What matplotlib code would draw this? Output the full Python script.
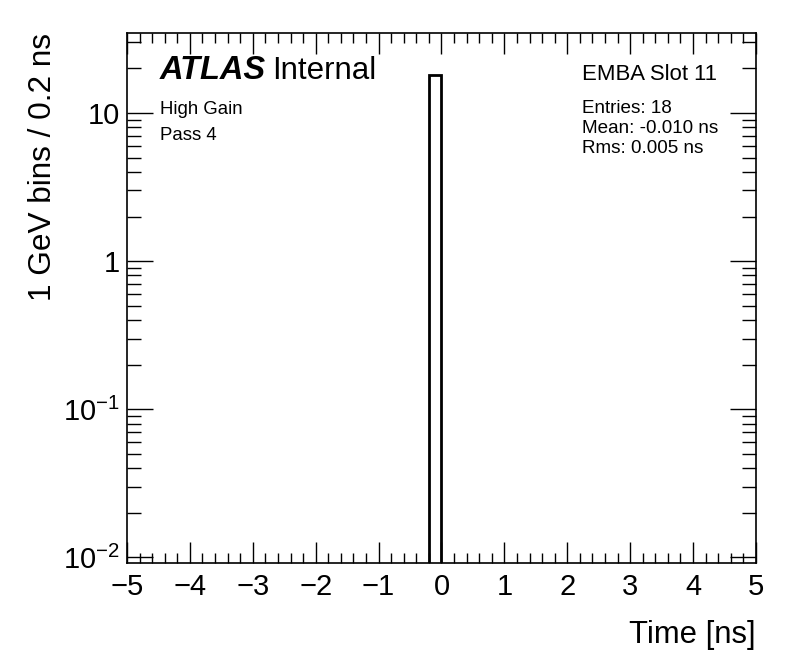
import numpy as np
import matplotlib
matplotlib.use('Agg')
import matplotlib.pyplot as plt
from matplotlib.ticker import FixedLocator, FixedFormatter, MultipleLocator, LogLocator, NullFormatter

plt.rcParams['font.family'] = ['Liberation Sans', 'DejaVu Sans']
plt.rcParams['mathtext.fontset'] = 'custom'
plt.rcParams['mathtext.rm'] = 'Liberation Sans'
plt.rcParams['mathtext.it'] = 'Liberation Sans:italic'
plt.rcParams['mathtext.bf'] = 'Liberation Sans:bold'

# histogram: 0.2 ns bins from -5 to 5, only one filled bin
bin_lo = [-0.2]
bin_hi = [0.0]
counts = [18]

x_ticks = [-5, -4, -3, -2, -1, 0, 1, 2, 3, 4, 5]
x_labels = ['\u22125', '\u22124', '\u22123', '\u22122', '\u22121', '0', '1', '2', '3', '4', '5']
y_ticks = [0.01, 0.1, 1, 10]
y_labels = [r'$10^{-2}$', r'$10^{-1}$', '1', '10']

fig = plt.figure(figsize=(7.96, 6.72), dpi=100)
ax = fig.add_axes([0.1595, 0.1622, 0.7902, 0.7887])

lo = np.array(bin_lo)
hi = np.array(bin_hi)
ax.bar((lo + hi) / 2, counts, width=hi - lo, bottom=1e-4, fill=False,
       edgecolor='black', linewidth=2)

ax.set_yscale('log')
ax.set_xlim(-5, 5)
ax.set_ylim(0.00915, 34.7)

ax.xaxis.set_major_locator(FixedLocator(x_ticks))
ax.xaxis.set_major_formatter(FixedFormatter(x_labels))
ax.xaxis.set_minor_locator(MultipleLocator(0.2))
ax.yaxis.set_major_locator(FixedLocator(y_ticks))
ax.yaxis.set_major_formatter(FixedFormatter(y_labels))
ax.yaxis.set_minor_locator(LogLocator(base=10, subs=np.arange(2, 10)))
ax.yaxis.set_minor_formatter(NullFormatter())

ax.tick_params(axis='both', which='both', direction='in', top=True, right=True,
               width=1, labelsize=21, color='black')
ax.tick_params(axis='x', which='major', length=15, pad=7)
ax.tick_params(axis='x', which='minor', length=7.5)
ax.tick_params(axis='y', which='major', length=19, pad=5)
ax.tick_params(axis='y', which='minor', length=10)
for s in ax.spines.values():
    s.set_linewidth(1.2)

ax.set_xlabel('Time [ns]', fontsize=22.3, loc='right', labelpad=14)
ax.set_ylabel('1 GeV bins / 0.2 ns', fontsize=22.7, loc='top', labelpad=4)

fig.text(160 / 796, 1 - 79 / 672, 'ATLAS', fontsize=23.5, fontweight='bold', style='italic')
fig.text(272 / 796, 1 - 79 / 672, 'Internal', fontsize=22.5)
fig.text(160 / 796, 1 - 114 / 672, 'High Gain', fontsize=13.4)
fig.text(160 / 796, 1 - 140 / 672, 'Pass 4', fontsize=13.4)
fig.text(582 / 796, 1 - 80 / 672, 'EMBA Slot 11', fontsize=15.9)
fig.text(582 / 796, 1 - 113 / 672, 'Entries: 18', fontsize=13.6)
fig.text(582 / 796, 1 - 133 / 672, 'Mean: -0.010 ns', fontsize=13.6)
fig.text(582 / 796, 1 - 153 / 672, 'Rms: 0.005 ns', fontsize=13.6)

fig.savefig('out.png', dpi=100)
